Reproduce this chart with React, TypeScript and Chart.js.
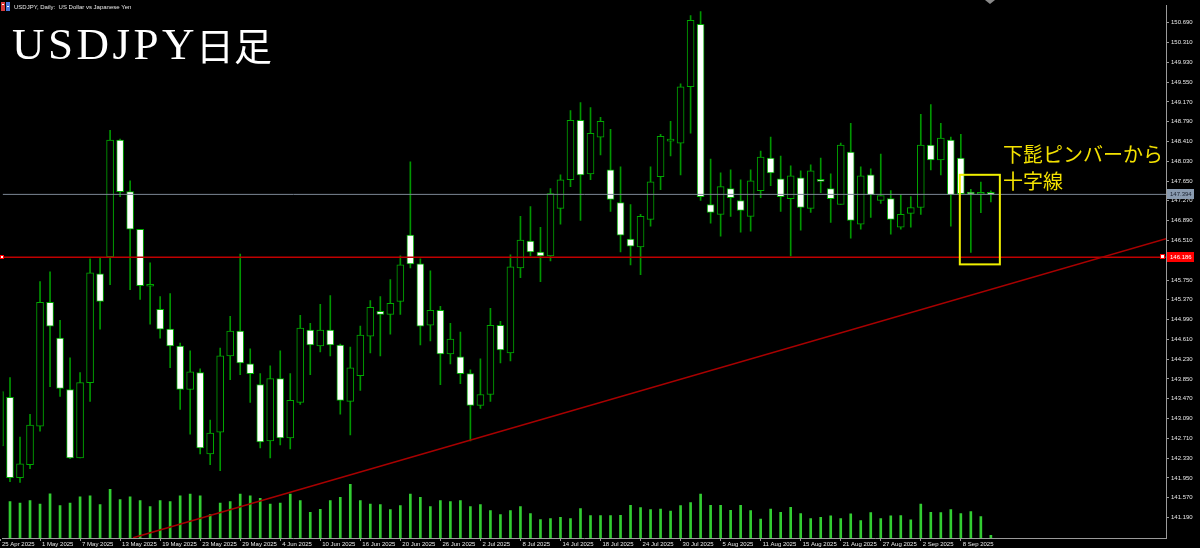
import React, { useEffect, useRef } from 'react';
import { Chart, registerables } from 'chart.js';

Chart.register(...registerables);

// ---------- data ----------
const dates: string[] = [
  '25 Apr 2025', '28 Apr 2025', '29 Apr 2025', '30 Apr 2025', '1 May 2025', '2 May 2025', '5 May 2025', '6 May 2025', '7 May 2025', '8 May 2025',
  '9 May 2025', '12 May 2025', '13 May 2025', '14 May 2025', '15 May 2025', '16 May 2025', '19 May 2025', '20 May 2025', '21 May 2025', '22 May 2025',
  '23 May 2025', '26 May 2025', '27 May 2025', '28 May 2025', '29 May 2025', '30 May 2025', '2 Jun 2025', '3 Jun 2025', '4 Jun 2025', '5 Jun 2025',
  '6 Jun 2025', '9 Jun 2025', '10 Jun 2025', '11 Jun 2025', '12 Jun 2025', '13 Jun 2025', '16 Jun 2025', '17 Jun 2025', '18 Jun 2025', '19 Jun 2025',
  '20 Jun 2025', '23 Jun 2025', '24 Jun 2025', '25 Jun 2025', '26 Jun 2025', '27 Jun 2025', '30 Jun 2025', '1 Jul 2025', '2 Jul 2025', '3 Jul 2025',
  '4 Jul 2025', '7 Jul 2025', '8 Jul 2025', '9 Jul 2025', '10 Jul 2025', '11 Jul 2025', '14 Jul 2025', '15 Jul 2025', '16 Jul 2025', '17 Jul 2025',
  '18 Jul 2025', '21 Jul 2025', '22 Jul 2025', '23 Jul 2025', '24 Jul 2025', '25 Jul 2025', '28 Jul 2025', '29 Jul 2025', '30 Jul 2025', '31 Jul 2025',
  '1 Aug 2025', '4 Aug 2025', '5 Aug 2025', '6 Aug 2025', '7 Aug 2025', '8 Aug 2025', '11 Aug 2025', '12 Aug 2025', '13 Aug 2025', '14 Aug 2025',
  '15 Aug 2025', '18 Aug 2025', '19 Aug 2025', '20 Aug 2025', '21 Aug 2025', '22 Aug 2025', '25 Aug 2025', '26 Aug 2025', '27 Aug 2025', '28 Aug 2025',
  '29 Aug 2025', '1 Sep 2025', '2 Sep 2025', '3 Sep 2025', '4 Sep 2025', '5 Sep 2025', '8 Sep 2025', '9 Sep 2025', '10 Sep 2025', '11 Sep 2025',
];

const opens: number[] = [
  142.564, 143.495, 141.956, 142.203, 142.944, 145.319, 144.635, 143.647, 142.336, 143.780,
  145.870, 146.193, 148.435, 147.447, 146.725, 145.630, 145.186, 144.806, 144.483, 143.647,
  143.970, 142.412, 142.830, 144.293, 144.768, 144.141, 143.742, 142.659, 143.856, 142.716,
  143.400, 144.787, 144.483, 144.787, 144.502, 143.419, 143.913, 144.673, 145.148, 145.091,
  145.338, 146.611, 146.060, 144.882, 145.167, 144.331, 144.274, 143.951, 143.343, 143.552,
  144.882, 144.350, 145.984, 146.497, 146.288, 146.212, 147.124, 147.675, 148.815, 147.789,
  148.492, 147.865, 147.238, 146.535, 146.383, 146.915, 147.732, 148.416, 148.378, 149.461,
  150.658, 147.200, 147.010, 147.504, 147.276, 146.972, 147.466, 148.093, 147.694, 147.314,
  147.713, 147.124, 147.656, 147.504, 147.200, 148.207, 146.820, 147.770, 147.276, 147.314,
  146.763, 147.029, 147.143, 148.340, 148.055, 148.435, 148.093, 147.419, 147.396, 147.428,
];

const highs: number[] = [
  143.704, 143.875, 142.735, 143.172, 145.718, 145.908, 144.977, 144.255, 143.970, 146.155,
  146.174, 148.625, 148.454, 147.656, 146.725, 146.079, 145.433, 145.490, 144.540, 144.388,
  144.046, 143.058, 144.445, 145.053, 146.250, 144.426, 143.951, 144.103, 144.388, 143.951,
  145.072, 144.920, 145.281, 145.452, 144.521, 144.464, 144.863, 145.357, 145.433, 145.756,
  146.212, 148.017, 146.155, 145.927, 145.243, 144.920, 144.749, 144.027, 144.236, 145.205,
  144.958, 146.231, 146.972, 147.162, 146.763, 147.504, 147.770, 149.005, 149.157, 149.062,
  148.872, 148.644, 147.922, 147.200, 147.010, 147.922, 148.549, 148.796, 149.518, 150.829,
  150.905, 148.074, 147.808, 147.865, 147.675, 147.865, 148.226, 148.492, 148.131, 147.941,
  147.846, 147.960, 148.093, 147.789, 148.378, 148.758, 147.922, 147.884, 148.169, 147.466,
  147.390, 147.352, 148.929, 149.119, 148.758, 148.492, 148.549, 147.491, 147.631, 147.460,
];

const lows: number[] = [
  142.469, 141.880, 141.861, 142.127, 142.849, 143.704, 143.514, 142.317, 142.336, 143.419,
  144.806, 145.661, 147.352, 145.566, 145.376, 144.901, 144.635, 144.065, 143.267, 142.792,
  142.412, 142.203, 142.089, 143.837, 143.932, 143.400, 142.526, 142.336, 142.583, 142.507,
  143.362, 143.932, 144.369, 144.293, 143.172, 142.773, 143.628, 144.350, 144.293, 144.711,
  145.091, 145.984, 144.502, 144.578, 143.742, 144.141, 143.761, 142.659, 143.286, 143.419,
  144.160, 144.198, 145.794, 146.212, 145.718, 146.117, 146.820, 147.542, 146.896, 147.675,
  148.150, 147.067, 146.288, 146.041, 145.851, 146.782, 147.485, 148.131, 147.770, 148.568,
  147.276, 146.839, 146.592, 146.972, 146.668, 146.687, 147.333, 147.561, 147.067, 146.212,
  146.706, 147.048, 147.428, 146.858, 147.200, 146.554, 146.725, 146.953, 147.219, 146.630,
  146.725, 146.763, 147.010, 147.865, 147.770, 146.782, 147.390, 146.282, 147.042, 147.251,
];

const closes: number[] = [
  143.609, 141.956, 142.222, 142.963, 145.319, 144.863, 143.666, 142.336, 143.780, 145.889,
  145.338, 148.435, 147.447, 146.725, 145.642, 145.642, 144.806, 144.483, 143.647, 143.989,
  142.526, 142.811, 144.293, 144.768, 144.160, 143.951, 142.640, 143.856, 142.716, 143.438,
  144.825, 144.502, 144.787, 144.502, 143.438, 144.065, 144.692, 145.224, 145.091, 145.300,
  146.041, 146.060, 144.863, 145.167, 144.331, 144.616, 143.951, 143.343, 143.552, 144.882,
  144.407, 146.003, 146.516, 146.288, 146.212, 147.409, 147.675, 148.815, 147.770, 148.568,
  148.796, 147.295, 146.611, 146.402, 146.972, 147.637, 148.511, 148.426, 149.461, 150.734,
  147.352, 147.048, 147.542, 147.333, 147.086, 147.656, 148.112, 147.808, 147.352, 147.751,
  147.143, 147.846, 147.643, 147.314, 148.340, 146.896, 147.751, 147.390, 147.371, 146.915,
  147.010, 147.143, 148.340, 148.055, 148.473, 147.390, 147.409, 147.400, 147.434, 147.394,
];

const volumes: number[] = [
  350, 367, 353, 377, 343, 447, 327, 353, 417, 427,
  337, 493, 387, 417, 377, 317, 377, 367, 427, 443,
  427, 237, 353, 367, 443, 427, 400, 343, 353, 443,
  377, 260, 290, 377, 410, 543, 377, 343, 337, 287,
  327, 443, 410, 317, 377, 367, 377, 317, 337, 277,
  237, 277, 317, 247, 187, 197, 210, 197, 297, 227,
  227, 227, 230, 330, 307, 287, 293, 273, 327, 357,
  443, 330, 330, 280, 330, 277, 190, 293, 260, 310,
  247, 197, 210, 223, 197, 243, 177, 257, 197, 223,
  227, 183, 343, 260, 257, 287, 247, 267, 217, 27,
];

const priceTicks: number[] = [
  141.19, 141.57, 141.95, 142.33, 142.71, 143.09, 143.47, 143.85, 144.23, 144.61, 144.99, 145.37, 145.75,
  146.13, 146.51, 146.89, 147.27, 147.65, 148.03, 148.41, 148.79, 149.17, 149.55, 149.93, 150.31, 150.69,
];
const dateTickIndex: number[] = [0, 4, 8, 12, 16, 20, 24, 28, 32, 36, 40, 44, 48, 52, 56, 60, 64, 68, 72, 76, 80, 84, 88, 92, 96];

const bidPrice = 147.394;
const levelPrice = 146.186;
const trendPoints = [
  { x: 13.3, y: 140.8 },
  { x: 116.5, y: 146.545 },
];
const markBox = { x0: 95.9, x1: 99.9, top: 147.77, bottom: 146.05 };

const xRange = { min: 0.26, max: 116.5 };
const yRange = { min: 140.796, max: 151.019 };
const volMax = 5380;

const captionText = 'USDJPY, Daily:  US Dollar vs Japanese Yen';
const titleLatin = 'USDJPY';
const titleCjk = '日足';
const noteLines = ['下髭ピンバーから', '十字線'];

const FONT = "'Liberation Sans', Arial, sans-serif";

export default function App() {
  const ref = useRef<HTMLCanvasElement>(null);

  useEffect(() => {
    document.body.style.margin = '0';
    document.body.style.background = '#000';
    const canvas = ref.current;
    if (!canvas) return;

    const isUp = closes.map((c, i) => c >= opens[i]);

    const overlay = {
      id: 'overlay',
      afterDraw(chart: any) {
        const { ctx, scales, chartArea } = chart;
        const xs = scales.x;
        const ys = scales.y;
        ctx.save();

        // annotation rectangle
        const bx0 = xs.getPixelForValue(markBox.x0);
        const bx1 = xs.getPixelForValue(markBox.x1);
        const by0 = ys.getPixelForValue(markBox.top);
        const by1 = ys.getPixelForValue(markBox.bottom);
        ctx.strokeStyle = '#f0f000';
        ctx.lineWidth = 2;
        ctx.strokeRect(bx0, by0, bx1 - bx0, by1 - by0);

        // horizontal line anchor markers
        const yl = Math.round(ys.getPixelForValue(levelPrice));
        ctx.lineWidth = 1;
        ctx.fillStyle = '#ffffff';
        ctx.strokeStyle = '#ff0000';
        ctx.fillRect(0, yl - 2, 3, 4);
        ctx.strokeRect(0.5, yl - 1.5, 3, 3);
        ctx.fillRect(chartArea.right - 5, yl - 2, 4, 4);
        ctx.strokeRect(chartArea.right - 5.5, yl - 2.5, 4, 4);

        // price boxes on the axis
        const priceBox = (p: number, bg: string, fg: string) => {
          const y = Math.round(ys.getPixelForValue(p));
          ctx.fillStyle = bg;
          ctx.fillRect(chartArea.right + 1, y - 5, 27, 10);
          ctx.fillStyle = fg;
          ctx.font = `6px ${FONT}`;
          ctx.textAlign = 'left';
          ctx.textBaseline = 'middle';
          ctx.fillText(p.toFixed(3), chartArea.right + 4, y + 0.5);
        };
        priceBox(bidPrice, '#8a9bb0', '#1a2230');
        priceBox(levelPrice, '#ff0000', '#ffffff');

        // chart shift marker
        ctx.fillStyle = '#8a8a8a';
        ctx.beginPath();
        ctx.moveTo(985, 0);
        ctx.lineTo(995, 0);
        ctx.lineTo(990, 4);
        ctx.closePath();
        ctx.fill();

        // window icon
        ctx.fillStyle = '#d83a3a';
        ctx.fillRect(1, 2, 4, 9);
        ctx.fillStyle = '#4a78d8';
        ctx.fillRect(6, 2, 4, 9);
        ctx.fillStyle = '#ffffff';
        ctx.fillRect(2, 4, 2, 1);
        ctx.fillRect(7, 6, 2, 1);

        // caption
        ctx.textAlign = 'left';
        ctx.textBaseline = 'alphabetic';
        ctx.fillStyle = '#e8e8e8';
        ctx.font = `6px ${FONT}`;
        ctx.fillText(captionText, 14, 9);

        // big title
        ctx.fillStyle = '#ffffff';
        ctx.font = "45px 'Liberation Serif', serif";
        (ctx as any).letterSpacing = '3.5px';
        ctx.fillText(titleLatin, 12, 59);
        (ctx as any).letterSpacing = '0px';
        ctx.font = "38px 'Noto Sans CJK JP', sans-serif";
        ctx.fillText(titleCjk, 196, 60);

        // annotation text
        ctx.fillStyle = '#f4e200';
        ctx.font = "20px 'Noto Sans CJK JP', sans-serif";
        ctx.fillText(noteLines[0], 1003, 162);
        ctx.fillText(noteLines[1], 1003, 188.5);

        ctx.restore();
      },
    };

    const chart = new Chart(canvas, {
      type: 'bar',
      data: {
        datasets: [
          {
            type: 'line',
            data: trendPoints,
            borderColor: '#a80000',
            borderWidth: 1.5,
            pointRadius: 0,
            tension: 0,
            fill: false,
            yAxisID: 'y',
            order: 0,
          } as any,
          {
            type: 'line',
            data: [{ x: xRange.min, y: levelPrice }, { x: xRange.max, y: levelPrice }],
            borderColor: '#c00000',
            borderWidth: 1.5,
            pointRadius: 0,
            fill: false,
            yAxisID: 'y',
            order: 1,
          } as any,
          {
            type: 'line',
            data: [{ x: xRange.min, y: bidPrice }, { x: xRange.max, y: bidPrice }],
            borderColor: '#7c8794',
            borderWidth: 1,
            pointRadius: 0,
            fill: false,
            yAxisID: 'y',
            order: 2,
          } as any,
          {
            type: 'bar',
            data: opens.map((o, i) => ({ x: i, y: [o, closes[i]] })),
            backgroundColor: isUp.map((u) => (u ? '#000000' : '#ffffff')),
            borderColor: '#00a800',
            borderWidth: 1,
            borderSkipped: false,
            barThickness: 7,
            minBarLength: 2,
            grouped: false,
            yAxisID: 'y',
            order: 3,
          } as any,
          {
            type: 'bar',
            data: lows.map((l, i) => ({ x: i, y: [l, highs[i]] })),
            backgroundColor: '#009600',
            borderWidth: 0,
            barThickness: 1,
            grouped: false,
            yAxisID: 'y',
            order: 4,
          } as any,
          {
            type: 'bar',
            data: volumes.map((v, i) => ({ x: i, y: v })),
            backgroundColor: '#32cd32',
            borderWidth: 0,
            barThickness: 2,
            grouped: false,
            yAxisID: 'yv',
            order: 5,
          } as any,
        ],
      },
      options: {
        responsive: false,
        animation: false,
        devicePixelRatio: 1,
        events: [],
        layout: { padding: 0, autoPadding: false } as any,
        plugins: {
          legend: { display: false },
          tooltip: { enabled: false },
          title: { display: false },
        },
        scales: {
          x: {
            type: 'linear',
            min: xRange.min,
            max: xRange.max,
            offset: false,
            afterBuildTicks: (s: any) => {
              s.ticks = dateTickIndex.map((v) => ({ value: v }));
            },
            afterFit: (s: any) => {
              s.height = 10;
            },
            ticks: {
              autoSkip: false,
              maxRotation: 0,
              minRotation: 0,
              align: 'start',
              labelOffset: 2,
              padding: 0,
              color: '#e6e6e6',
              font: { family: FONT, size: 6 },
              callback: (v: any) => dates[v] ?? '',
            },
            grid: { drawOnChartArea: false, drawTicks: true, tickLength: 3, color: '#9a9a9a', offset: false },
            border: { display: true, color: '#9a9a9a' },
          } as any,
          y: {
            type: 'linear',
            position: 'right',
            min: yRange.min,
            max: yRange.max,
            afterBuildTicks: (s: any) => {
              s.ticks = priceTicks.map((v) => ({ value: v }));
            },
            afterFit: (s: any) => {
              s.width = 34;
            },
            ticks: {
              autoSkip: false,
              padding: 2,
              color: '#e6e6e6',
              font: { family: FONT, size: 6 },
              callback: (v: any) => Number(v).toFixed(3),
            },
            grid: { drawOnChartArea: false, drawTicks: true, tickLength: 3, color: '#9a9a9a' },
            border: { display: true, color: '#9a9a9a' },
          } as any,
          yv: {
            type: 'linear',
            display: false,
            min: 0,
            max: volMax,
          } as any,
        },
      },
      plugins: [overlay],
    });

    return () => chart.destroy();
  }, []);

  return (
    <div style={{ width: 1200, height: 548, background: '#000', overflow: 'hidden' }}>
      <canvas ref={ref} width={1200} height={548} style={{ display: 'block', width: 1200, height: 548 }} />
    </div>
  );
}
